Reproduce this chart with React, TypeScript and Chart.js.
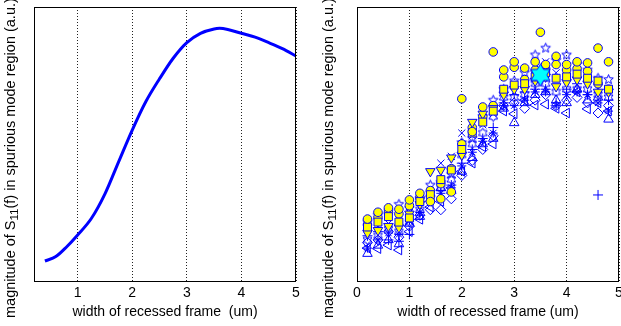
import React, { useEffect, useRef } from 'react';
import { Chart, registerables } from 'chart.js';

Chart.register(...registerables);

const FONT = '"Liberation Sans", Arial, Helvetica, sans-serif';

// ---------- Left panel: simulated curve ----------
const lineX = [0.4, 0.6, 0.8, 1.0, 1.25, 1.5, 1.75, 2.0, 2.25, 2.5, 2.75, 3.0, 3.25, 3.5, 3.6, 3.75, 4.0, 4.25, 4.5, 4.75, 5.0];
const lineY = [0.073, 0.089, 0.125, 0.168, 0.228, 0.318, 0.435, 0.551, 0.655, 0.738, 0.813, 0.870, 0.904, 0.920, 0.922, 0.918, 0.904, 0.890, 0.870, 0.848, 0.821];
const leftTicks = [1, 2, 3, 4, 5];

// ---------- Right panel: measured scatter ----------
const widths = [0.2, 0.4, 0.6, 0.8, 1.0, 1.2, 1.4, 1.6, 1.8, 2.0, 2.2, 2.4, 2.6, 2.8, 3.0, 3.2, 3.4, 3.6, 3.8, 4.0, 4.2, 4.4, 4.6, 4.8];
const circlesA = [0.226, 0.251, 0.267, 0.262, 0.296, 0.320, 0.290, 0.300, 0.325, 0.665, 0.545, 0.635, 0.836, 0.770, 0.800, 0.777, 0.800, 0.790, 0.820, 0.790, 0.800, 0.796, 0.850, 0.800];
const circlesB = [0.205, 0.232, 0.250, 0.245, 0.275, 0.305, 0.330, 0.355, 0.410, 0.500, 0.560, 0.600, 0.640, 0.745, 0.780, 0.735, 0.770, 0.775, 0.790, 0.770, 0.775, 0.765, 0.720, 0.700];
const squares = [0.197, 0.215, 0.235, 0.215, 0.230, 0.290, 0.315, 0.370, 0.405, 0.480, 0.540, 0.580, 0.620, 0.700, 0.715, 0.720, 0.745, 0.760, 0.740, 0.745, 0.755, 0.740, 0.730, 0.700];
const trianglesDown = [0.175, 0.185, 0.200, 0.195, 0.245, 0.280, 0.400, 0.405, 0.450, 0.460, 0.580, 0.610, 0.630, 0.680, 0.700, 0.700, 0.730, 0.745, 0.710, 0.725, 0.735, 0.720, 0.690, 0.690];
const pentagrams = [0.215, 0.240, 0.255, 0.280, 0.265, 0.300, 0.350, 0.360, 0.390, 0.505, 0.520, 0.600, 0.660, 0.700, 0.730, 0.760, 0.825, 0.850, 0.805, 0.825, 0.790, 0.770, 0.740, 0.735];
const crosses = [0.190, 0.200, 0.210, 0.225, 0.250, 0.270, 0.330, 0.430, 0.455, 0.540, 0.530, 0.570, 0.610, 0.700, 0.690, 0.720, 0.780, 0.800, 0.760, 0.760, 0.770, 0.750, 0.700, 0.700];
const pluses = [0.165, 0.180, 0.150, 0.145, 0.170, 0.240, 0.310, 0.330, 0.350, 0.430, 0.480, 0.520, 0.560, 0.650, 0.680, 0.690, 0.700, 0.700, 0.650, 0.700, 0.720, 0.680, 0.314, 0.660];
const asterisks = [0.120, 0.150, 0.175, 0.170, 0.220, 0.250, 0.290, 0.320, 0.340, 0.420, 0.470, 0.510, 0.540, 0.640, 0.640, 0.660, 0.690, 0.690, 0.640, 0.680, 0.690, 0.680, 0.650, 0.620];
const trianglesUp = [0.100, 0.130, 0.150, 0.135, 0.210, 0.235, 0.300, 0.340, 0.330, 0.400, 0.450, 0.500, 0.520, 0.630, 0.577, 0.650, 0.680, 0.690, 0.660, 0.650, 0.700, 0.660, 0.670, 0.590];
const trianglesLeft = [0.120, 0.118, 0.131, 0.113, 0.180, 0.225, 0.270, 0.290, 0.340, 0.400, 0.430, 0.490, 0.500, 0.620, 0.610, 0.660, 0.642, 0.645, 0.630, 0.613, 0.690, 0.628, 0.650, 0.620];
const diamonds = [0.140, 0.150, 0.180, 0.160, 0.200, 0.240, 0.260, 0.260, 0.300, 0.385, 0.440, 0.480, 0.530, 0.640, 0.650, 0.630, 0.660, 0.680, 0.640, 0.660, 0.670, 0.650, 0.613, 0.640];
const hexagrams = [0.150, 0.165, 0.190, 0.180, 0.215, 0.260, 0.320, 0.340, 0.370, 0.460, 0.500, 0.540, 0.600, 0.670, 0.670, 0.680, 0.720, 0.720, 0.690, 0.700, 0.700, 0.700, 0.680, 0.670];
const extraCircleX = [3.5];
const extraCircleY = [0.908];
const optimumX = [3.5];
const optimumY = [0.752];
const rightTicks = [0, 1, 2, 3, 4, 5];

const xTitleLeft = 'width of recessed frame  (um)';
const xTitleRight = 'width of recessed frame (um)';
const yTitleParts = [
  { text: 'magnitude of S', sub: false },
  { text: '11', sub: true },
  { text: '(f) in spurious mode region (a.u.)', sub: false },
];

const BLUE = '#0000ff';
const YELLOW = '#ffff00';

function makeStar(n: number, outer: number, inner: number, fill: string | null, stroke: string, lw = 1) {
  const size = Math.ceil(outer * 2 + 3);
  const c = document.createElement('canvas');
  c.width = size;
  c.height = size;
  const g = c.getContext('2d')!;
  const cx = size / 2;
  const cy = size / 2;
  g.beginPath();
  for (let i = 0; i < 2 * n; i++) {
    const r = i % 2 === 0 ? outer : inner;
    const a = -Math.PI / 2 + (i * Math.PI) / n;
    const px = cx + r * Math.cos(a);
    const py = cy + r * Math.sin(a);
    if (i === 0) g.moveTo(px, py);
    else g.lineTo(px, py);
  }
  g.closePath();
  if (fill) {
    g.fillStyle = fill;
    g.fill();
  }
  g.strokeStyle = stroke;
  g.lineWidth = lw;
  g.stroke();
  return c;
}

const framePlugin = {
  id: 'frame',
  afterDraw(chart: any, _args: any, opts: any) {
    const { ctx, chartArea: a } = chart;
    ctx.save();
    ctx.strokeStyle = '#000';
    ctx.lineWidth = 1;
    ctx.strokeRect(Math.round(a.left) + 0.5, Math.round(a.top) + 0.5, Math.round(a.right - a.left) - 1, Math.round(a.bottom - a.top));
    ctx.restore();

    ctx.save();
    ctx.translate(opts.titleX, opts.titleY);
    ctx.rotate(-Math.PI / 2);
    ctx.fillStyle = '#000';
    ctx.textBaseline = 'middle';
    ctx.textAlign = 'left';
    let x = 0;
    for (const p of yTitleParts) {
      ctx.font = p.sub ? `11.5px ${FONT}` : `14.5px ${FONT}`;
      ctx.fillText(p.text, x, p.sub ? 4 : 0);
      x += ctx.measureText(p.text).width;
    }
    ctx.restore();
  },
};

function baseScales(min: number, ticks: number[], title: string, yWidth: number) {
  return {
    x: {
      type: 'linear',
      min,
      max: 5,
      afterBuildTicks: (s: any) => {
        s.ticks = ticks.map((v) => ({ value: v }));
      },
      afterFit: (s: any) => {
        s.height = 45;
        s.paddingLeft = 0;
        s.paddingRight = 0;
      },
      grid: { color: '#222', drawTicks: false, lineWidth: 1 },
      border: { display: false, dash: [1, 2] },
      ticks: { font: { family: FONT, size: 14 }, color: '#000', padding: 4 },
      title: { display: true, text: title, font: { family: FONT, size: 14 }, color: '#000', padding: { top: 0, bottom: 5 } },
    },
    y: {
      type: 'linear',
      min: 0,
      max: 1,
      ticks: { display: false },
      grid: { display: false },
      border: { display: false },
      afterFit: (s: any) => {
        s.width = yWidth;
      },
    },
  };
}

function pts(xs: number[], ys: number[]) {
  return xs.map((x, i) => ({ x, y: ys[i] }));
}

export default function App() {
  const leftRef = useRef<HTMLCanvasElement>(null);
  const rightRef = useRef<HTMLCanvasElement>(null);

  useEffect(() => {
    const left = new Chart(leftRef.current!, {
      type: 'scatter',
      data: {
        datasets: [
          {
            data: pts(lineX, lineY),
            showLine: true,
            borderColor: BLUE,
            borderWidth: 3,
            pointRadius: 0,
            cubicInterpolationMode: 'monotone',
            fill: false,
          },
        ],
      },
      options: {
        animation: false,
        responsive: false,
        events: [],
        layout: { autoPadding: false, padding: { top: 7, right: 14, left: 0, bottom: 0 } },
        plugins: { legend: { display: false }, tooltip: { enabled: false }, frame: { titleX: 11, titleY: 318 } } as any,
        scales: baseScales(0.2, leftTicks, xTitleLeft, 34) as any,
      },
      plugins: [framePlugin],
    });

    const penta = makeStar(5, 5, 2.2, null, BLUE);
    const hexa = makeStar(6, 5, 2.9, null, BLUE);
    const bigHexa = makeStar(6, 11, 6.4, '#00ffff', BLUE);

    const mk = (data: number[], style: any, extra: any = {}) => ({
      data: pts(widths, data),
      showLine: false,
      pointStyle: style,
      pointRadius: 4,
      pointBorderWidth: 1,
      borderColor: BLUE,
      backgroundColor: 'rgba(0,0,0,0)',
      ...extra,
    });

    const right = new Chart(rightRef.current!, {
      type: 'scatter',
      data: {
        datasets: [
          { data: pts(optimumX, optimumY), showLine: false, pointStyle: bigHexa, pointRadius: 11 },
          { data: pts(extraCircleX, extraCircleY), showLine: false, pointStyle: 'circle', pointRadius: 4.3, borderColor: BLUE, backgroundColor: YELLOW, pointBorderWidth: 1 },
          mk(circlesA, 'circle', { backgroundColor: YELLOW, pointRadius: 4.3 }),
          mk(squares, 'rect', { backgroundColor: YELLOW, pointRadius: 5.6 }),
          mk(trianglesDown, 'triangle', { backgroundColor: YELLOW, pointRadius: 5.5, pointRotation: 180 }),
          mk(circlesB, 'circle', { backgroundColor: YELLOW, pointRadius: 4.3 }),
          mk(crosses, 'crossRot', { pointRadius: 5 }),
          mk(pluses, 'cross', { pointRadius: 5 }),
          mk(asterisks, 'star', { pointRadius: 4.5 }),
          mk(pentagrams, penta),
          mk(hexagrams, hexa),
          mk(diamonds, 'rectRot', { pointRadius: 5 }),
          mk(trianglesUp, 'triangle', { pointRadius: 5.5 }),
          mk(trianglesLeft, 'triangle', { pointRadius: 5.5, pointRotation: 270 }),
        ],
      },
      options: {
        animation: false,
        responsive: false,
        events: [],
        layout: { autoPadding: false, padding: { top: 7, right: 2, left: 0, bottom: 0 } },
        plugins: { legend: { display: false }, tooltip: { enabled: false }, frame: { titleX: 19, titleY: 318 } } as any,
        scales: baseScales(0, rightTicks, xTitleRight, 47) as any,
      },
      plugins: [framePlugin],
    });

    return () => {
      left.destroy();
      right.destroy();
    };
  }, []);

  return (
    <div style={{ position: 'fixed', left: 0, top: 0, width: 621, height: 326, background: '#fff', overflow: 'hidden' }}>
      <canvas ref={leftRef} width={310} height={326} style={{ position: 'absolute', left: 0, top: 0, width: 310, height: 326 }} />
      <canvas ref={rightRef} width={311} height={326} style={{ position: 'absolute', left: 310, top: 0, width: 311, height: 326 }} />
    </div>
  );
}
